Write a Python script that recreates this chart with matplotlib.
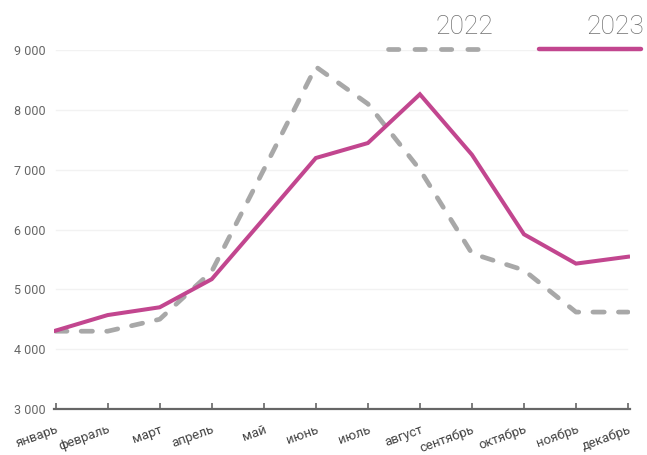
import matplotlib.pyplot as plt
from matplotlib.lines import Line2D

months = ['январь', 'февраль', 'март', 'апрель', 'май', 'июнь',
          'июль', 'август', 'сентябрь', 'октябрь', 'ноябрь', 'декабрь']
values_2022 = [4300, 4300, 4500, 5300, 7000, 8720, 8100, 7000, 5600, 5320, 4620, 4620]
values_2023 = [4310, 4570, 4700, 5170, 6180, 7195, 7445, 8260, 7250, 5920, 5430, 5545]
y_ticks = [3000, 4000, 5000, 6000, 7000, 8000, 9000]

pink = '#C2468F'
grey = '#A8A8A8'

plt.rcParams['font.family'] = ['Roboto', 'DejaVu Sans']

fig = plt.figure(figsize=(6.47, 4.55), dpi=100)
ax = fig.add_axes([0.0836, 0.1011, 0.8895, 0.789])

x = list(range(len(months)))
ax.plot(x, values_2022, color=grey, lw=3.4, dashes=(2.4, 3.0),
        dash_capstyle='round', solid_capstyle='round', zorder=3)
ax.plot(x, values_2023, color=pink, lw=2.9, solid_joinstyle='miter', zorder=4)

ax.set_xlim(-0.03, 11.03)
ax.set_ylim(3000, 9000)
ax.set_yticks(y_ticks)
ax.set_yticklabels([f'{v:,}'.replace(',', ' ') for v in y_ticks],
                   color='#666666', fontsize=9)
ax.set_xticks(x)
ax.set_xticklabels(months, rotation=20, ha='right', rotation_mode='anchor',
                   color='#444444', fontsize=9.5)

for v in y_ticks[1:]:
    ax.axhline(v, xmin=0.004, xmax=0.995, color='#F2F2F2', lw=1, zorder=1)

for s in ['top', 'right', 'left']:
    ax.spines[s].set_visible(False)
ax.spines['bottom'].set_color('#666666')
ax.spines['bottom'].set_linewidth(1.6)
ax.tick_params(axis='x', direction='in', length=4, width=1.2, color='#666666', pad=10)
ax.tick_params(axis='y', length=0, pad=6)

# legend
W, H = 647, 455
fig.add_artist(Line2D([388 / W, 489 / W], [1 - 49 / H, 1 - 49 / H], color=grey, lw=3.4,
                      dashes=(2.2, 3.4), dash_capstyle='round'))
fig.add_artist(Line2D([539 / W, 641 / W], [1 - 49 / H, 1 - 49 / H], color=pink, lw=3.2,
                      solid_capstyle='round'))
fig.text(493 / W, 1 - 27 / H, '2022', ha='right', va='center', fontsize=19,
         fontweight='light', color='#707070')
fig.text(644 / W, 1 - 27 / H, '2023', ha='right', va='center', fontsize=19,
         fontweight='light', color='#707070')

fig.savefig('out.png', dpi=100)
